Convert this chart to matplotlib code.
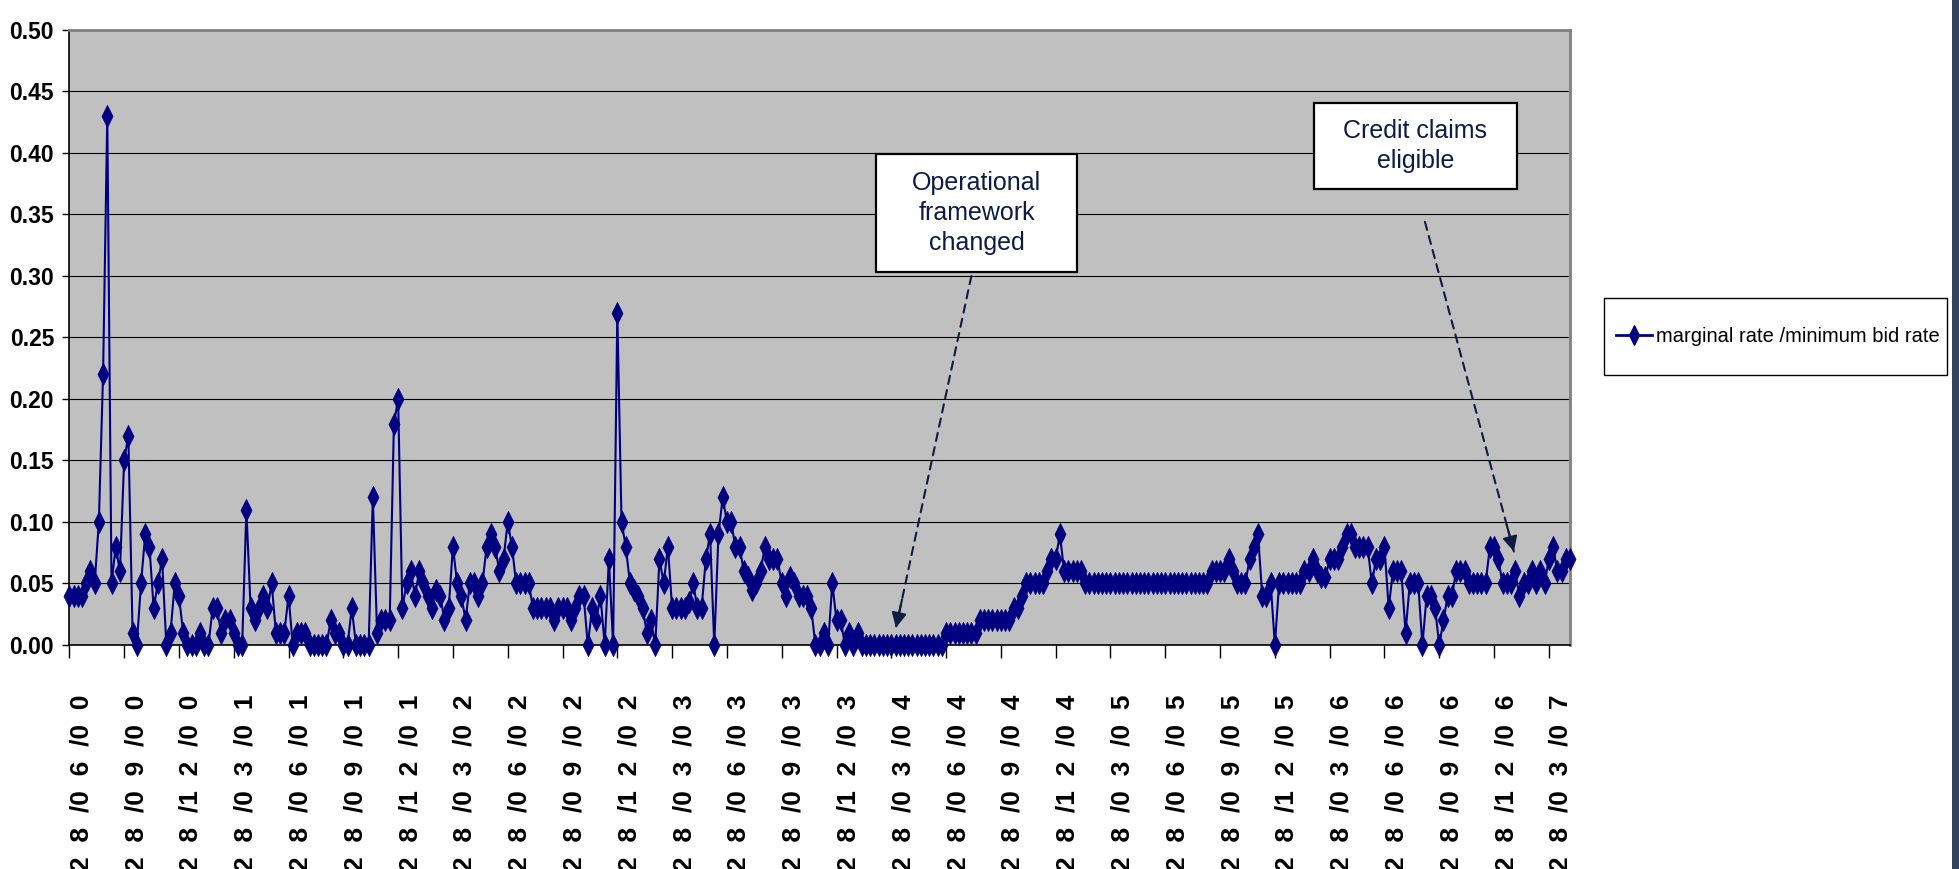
# Marginal rate minus minimum bid rate in the weekly main refinancing operations
import matplotlib.pyplot as plt
from matplotlib.path import Path
from matplotlib.patches import Rectangle
from matplotlib.lines import Line2D

# one value per weekly tender, split by the year shown on the axis labels
rates_2000 = [0.04, 0.04, 0.04, 0.04, 0.05, 0.06, 0.05, 0.10, 0.22, 0.43,
              0.05, 0.08, 0.06, 0.15, 0.17, 0.01, 0.00, 0.05, 0.09, 0.08,
              0.03, 0.05, 0.07, 0.00, 0.01, 0.05]
rates_2001 = [0.04, 0.01, 0.00, 0.00, 0.00, 0.01, 0.00, 0.00, 0.03, 0.03,
              0.01, 0.02, 0.02, 0.01, 0.00, 0.00, 0.11, 0.03, 0.02, 0.03,
              0.04, 0.03, 0.05, 0.01, 0.01, 0.01, 0.04, 0.00, 0.01, 0.01,
              0.01, 0.00, 0.00, 0.00, 0.00, 0.00, 0.02, 0.01, 0.01, 0.00,
              0.00, 0.03, 0.00, 0.00, 0.00, 0.00, 0.12, 0.01, 0.02, 0.02,
              0.02, 0.18]
rates_2002 = [0.20, 0.03, 0.05, 0.06, 0.04, 0.06, 0.05, 0.04, 0.03, 0.045,
              0.04, 0.02, 0.03, 0.08, 0.05, 0.04, 0.02, 0.05, 0.05, 0.04,
              0.05, 0.08, 0.09, 0.08, 0.06, 0.07, 0.10, 0.08, 0.05, 0.05,
              0.05, 0.05, 0.03, 0.03, 0.03, 0.03, 0.03, 0.02, 0.03, 0.03,
              0.03, 0.02, 0.03, 0.04, 0.04, 0.00, 0.03, 0.02, 0.04, 0.00,
              0.07, 0.00]
rates_2003 = [0.27, 0.10, 0.08, 0.05, 0.045, 0.04, 0.03, 0.01, 0.02, 0.00,
              0.07, 0.05, 0.08, 0.03, 0.03, 0.03, 0.03, 0.035, 0.05, 0.03,
              0.03, 0.07, 0.09, 0.00, 0.09, 0.12, 0.10, 0.10, 0.08, 0.08,
              0.06, 0.055, 0.045, 0.05, 0.06, 0.08, 0.07, 0.07, 0.07, 0.05,
              0.04, 0.055, 0.05, 0.04, 0.04, 0.04, 0.03, 0.00, 0.00, 0.01,
              0.00, 0.05]
rates_2004 = [0.02, 0.02, 0.00, 0.01, 0.00, 0.01, 0.00, 0.00, 0.00, 0.00,
              0.00, 0.00, 0.00, 0.00, 0.00, 0.00, 0.00, 0.00, 0.00, 0.00,
              0.00, 0.00, 0.00, 0.00, 0.00, 0.00, 0.01, 0.01, 0.01, 0.01,
              0.01, 0.01, 0.01, 0.01, 0.02, 0.02, 0.02, 0.02, 0.02, 0.02,
              0.02, 0.02, 0.03, 0.03, 0.04, 0.05, 0.05, 0.05, 0.05, 0.05,
              0.06, 0.07]
rates_2005 = [0.07, 0.09, 0.06, 0.06, 0.06, 0.06, 0.06, 0.05, 0.05, 0.05,
              0.05, 0.05, 0.05, 0.05, 0.05, 0.05, 0.05, 0.05, 0.05, 0.05,
              0.05, 0.05, 0.05, 0.05, 0.05, 0.05, 0.05, 0.05, 0.05, 0.05,
              0.05, 0.05, 0.05, 0.05, 0.05, 0.05, 0.05, 0.06, 0.06, 0.06,
              0.06, 0.07, 0.06, 0.05, 0.05, 0.05, 0.07, 0.08, 0.09, 0.04,
              0.04, 0.05]
rates_2006 = [0.00, 0.05, 0.05, 0.05, 0.05, 0.05, 0.05, 0.06, 0.06, 0.07,
              0.06, 0.055, 0.055, 0.07, 0.07, 0.07, 0.08, 0.09, 0.09, 0.08,
              0.08, 0.08, 0.08, 0.05, 0.07, 0.07, 0.08, 0.03, 0.06, 0.06,
              0.06, 0.01, 0.05, 0.05, 0.05, 0.00, 0.04, 0.04, 0.03, 0.00,
              0.02, 0.04, 0.04, 0.06, 0.06, 0.06, 0.05, 0.05, 0.05, 0.05,
              0.05, 0.08]
rates_2007 = [0.08, 0.07, 0.05, 0.05, 0.05, 0.06, 0.04, 0.05, 0.05, 0.06,
              0.05, 0.06, 0.05, 0.07, 0.08, 0.06, 0.06, 0.07, 0.07]

rates = (rates_2000 + rates_2001 + rates_2002 + rates_2003 + rates_2004
         + rates_2005 + rates_2006 + rates_2007)
weeks = list(range(len(rates)))

# a date label every 13 weeks
tick_dates = ['28/06/00', '28/09/00', '28/12/00', '28/03/01', '28/06/01',
              '28/09/01', '28/12/01', '28/03/02', '28/06/02', '28/09/02',
              '28/12/02', '28/03/03', '28/06/03', '28/09/03', '28/12/03',
              '28/03/04', '28/06/04', '28/09/04', '28/12/04', '28/03/05',
              '28/06/05', '28/09/05', '28/12/05', '28/03/06', '28/06/06',
              '28/09/06', '28/12/06', '28/03/07']
tick_step = 13

series_name = 'marginal rate /minimum bid rate'
notes = ['Operational\nframework\nchanged', 'Credit claims\neligible']
# text box corners (axes fraction) and arrow start/end (week, rate)
note_boxes = [(0.5375, 0.6065, 0.6715, 0.798), (0.8294, 0.7415, 0.9647, 0.8813)]
note_arrows = [((214.0, 0.300), (196.1, 0.014)), ((321.6, 0.344), (342.7, 0.076))]

navy = '#000080'
note_color = '#0c1c45'
font = ['Liberation Sans', 'DejaVu Sans']
tall_diamond = Path([(0, 1), (0.5, 0), (0, -1), (-0.5, 0), (0, 1)],
                    [Path.MOVETO, Path.LINETO, Path.LINETO, Path.LINETO, Path.CLOSEPOLY])


def spaced(date):
    d, m, y = date.split('/')
    return '  '.join([d[0], d[1], '/' + m[0], m[1], '/' + y[0], y[1]])


fig = plt.figure(figsize=(19.59, 8.69), dpi=100)
ax = fig.add_axes([0.0354, 0.2578, 0.7660, 0.7077])
ax.set_facecolor('#c0c0c0')

ax.plot(weeks, rates, color=navy, lw=1.5, marker=tall_diamond, ms=16,
        mfc=navy, mec=navy, mew=0.5, clip_on=False, zorder=3)

ax.set_xlim(0, len(rates) - 1)
ax.set_ylim(0, 0.5)
ax.set_yticks([k * 0.05 for k in range(11)])
ax.set_yticklabels(['%.2f' % (k * 0.05) for k in range(11)],
                   family=font, fontweight='bold', fontsize=16.5)
ax.grid(axis='y', color='black', lw=0.8)
ax.set_axisbelow(True)

ax.set_xticks(weeks[::tick_step])
ax.set_xticklabels([spaced(d) for d in tick_dates], rotation=90, ha='left',
                   family=font, fontweight='bold', fontsize=19)

ax.tick_params(axis='x', direction='out', length=9.5, width=1, pad=26)
ax.tick_params(axis='y', direction='out', length=5, width=1, pad=6)
for side in ['left', 'bottom']:
    ax.spines[side].set_color('black')
    ax.spines[side].set_linewidth(1.2)
for side in ['top', 'right']:
    ax.spines[side].set_color('#808080')
    ax.spines[side].set_linewidth(2)

# annotation boxes and dashed arrows
for text, (x0, y0, x1, y1), (start, tip) in zip(notes, note_boxes, note_arrows):
    ax.add_patch(Rectangle((x0, y0), x1 - x0, y1 - y0, transform=ax.transAxes,
                           facecolor='white', edgecolor='black', lw=1.6, zorder=5))
    ax.text((x0 + x1) / 2, (y0 + y1) / 2, text, transform=ax.transAxes,
            ha='center', va='center', fontsize=18, color=note_color,
            family=font, linespacing=1.3, zorder=6)
    ax.annotate('', xy=tip, xytext=start,
                arrowprops=dict(arrowstyle='-', color=note_color, lw=1.5,
                                linestyle=(0, (4, 3)), shrinkA=0, shrinkB=0), zorder=6)
    head_from = (start[0] + 0.92 * (tip[0] - start[0]), start[1] + 0.92 * (tip[1] - start[1]))
    ax.annotate('', xy=tip, xytext=head_from,
                arrowprops=dict(arrowstyle='-|>,head_length=0.9,head_width=0.45',
                                color=note_color, lw=1.5, shrinkA=0, shrinkB=0), zorder=6)

# legend with a plain box around it
fig.patches.append(Rectangle((0.8188, 0.5685), 0.1751, 0.0886, transform=fig.transFigure,
                             facecolor='white', edgecolor='black', lw=1.0))
handle = Line2D([], [], color=navy, lw=2, marker=tall_diamond, ms=14, mfc=navy, mec=navy)
fig.legend([handle], [series_name], loc='center left', bbox_to_anchor=(0.8200, 0.6125),
           frameon=False, borderpad=0, handlelength=1.75, handletextpad=0.2,
           prop={'family': font, 'size': 14.5})

# dark slide edge on the right
fig.patches.append(Rectangle((1952 / 1959, 0), 7 / 1959, 1, transform=fig.transFigure,
                             facecolor='#34435e', edgecolor='none'))

fig.savefig('out.png', dpi=100)
